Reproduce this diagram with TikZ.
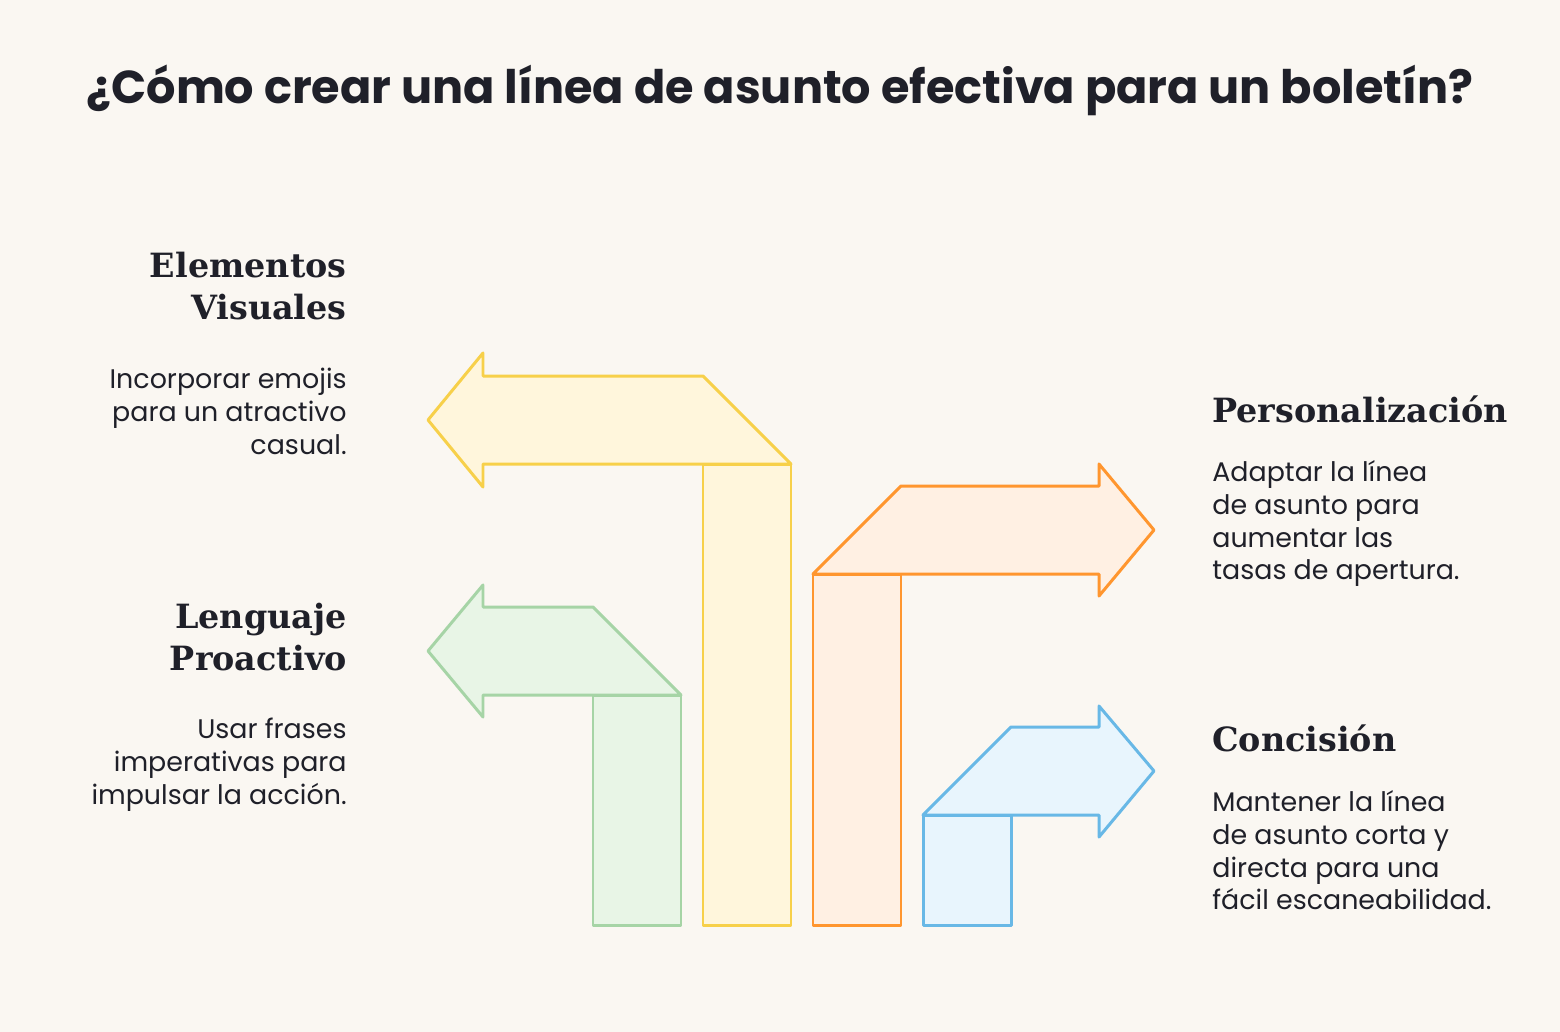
\documentclass[tikz,border=0pt]{standalone}
\usepackage{fontspec}
\setmainfont{Poppins}
\newfontfamily\headfont{DejaVu Serif}
\definecolor{bgcol}{HTML}{FAF7F2}
\definecolor{inkcol}{HTML}{1F2029}
\definecolor{ylwline}{HTML}{F7D04A}
\definecolor{ylwfill}{HTML}{FFF6DC}
\definecolor{grnline}{HTML}{A6D4A6}
\definecolor{grnfill}{HTML}{E8F5E6}
\definecolor{orgline}{HTML}{FF962F}
\definecolor{orgfill}{HTML}{FFF0E3}
\definecolor{bluline}{HTML}{68B8E6}
\definecolor{blufill}{HTML}{E8F5FD}
\begin{document}
\begin{tikzpicture}[x=0.02cm, y=-0.02cm,
  arrowbody/.style={line width=1.7pt, line join=round},
  headtext/.style={inner sep=0pt, text=inkcol, font=\headfont\bfseries\fontsize{19pt}{23.8pt}\selectfont},
  bodytext/.style={inner sep=0pt, text=inkcol, font=\fontsize{15.3pt}{18.7pt}\selectfont}]
\fill[bgcol] (0,0) rectangle (1560,1032);
\useasboundingbox (0,0) rectangle (1560,1032);
\node[text=inkcol, font=\bfseries\fontsize{26.3pt}{31pt}\selectfont] (title) at (780,90) {¿Cómo crear una línea de asunto efectiva para un boletín?};
% yellow arrow
\draw[arrowbody, draw=ylwline, fill=ylwfill] (428,420) -- (483,353) -- (483,376) -- (703,376) -- (791,464) -- (483,464) -- (483,487) -- cycle;
\draw[arrowbody, draw=ylwline, fill=ylwfill] (703,464) rectangle (791,925);
% green arrow
\draw[arrowbody, draw=grnline, fill=grnfill] (428,651) -- (483,585) -- (483,607) -- (593,607) -- (681,695) -- (483,695) -- (483,717) -- cycle;
\draw[arrowbody, draw=grnline, fill=grnfill] (593,695) rectangle (681,925);
% orange arrow
\draw[arrowbody, draw=orgline, fill=orgfill] (813,574) -- (901,486) -- (1099,486) -- (1099,464) -- (1154,530) -- (1099,596) -- (1099,574) -- cycle;
\draw[arrowbody, draw=orgline, fill=orgfill] (813,574) rectangle (901,925);
% blue arrow
\draw[arrowbody, draw=bluline, fill=blufill] (923,815) -- (1011,727) -- (1099,727) -- (1099,706) -- (1154,771) -- (1099,837) -- (1099,815) -- cycle;
\draw[arrowbody, draw=bluline, fill=blufill] (923,815) rectangle (1011,925);
% labels
\node[headtext, anchor=north east, align=right] (visual) at (347,252) {Elementos\\Visuales};
\node[bodytext, anchor=north east, align=right] (visualtxt) at (347,368) {Incorporar emojis\\para un atractivo\\casual.};
\node[headtext, anchor=north east, align=right] (proact) at (347,603) {Lenguaje\\Proactivo};
\node[bodytext, anchor=north east, align=right] (proacttxt) at (347,718) {Usar frases\\imperativas para\\impulsar la acción.};
\node[headtext, anchor=north west, align=left] (person) at (1212,395) {Personalización};
\node[bodytext, anchor=north west, align=left] (persontxt) at (1212,460) {Adaptar la línea\\de asunto para\\aumentar las\\tasas de apertura.};
\node[headtext, anchor=north west, align=left] (concis) at (1212,724) {Concisión};
\node[bodytext, anchor=north west, align=left] (concistxt) at (1212,790) {Mantener la línea\\de asunto corta y\\directa para una\\fácil escaneabilidad.};
\end{tikzpicture}
\end{document}
